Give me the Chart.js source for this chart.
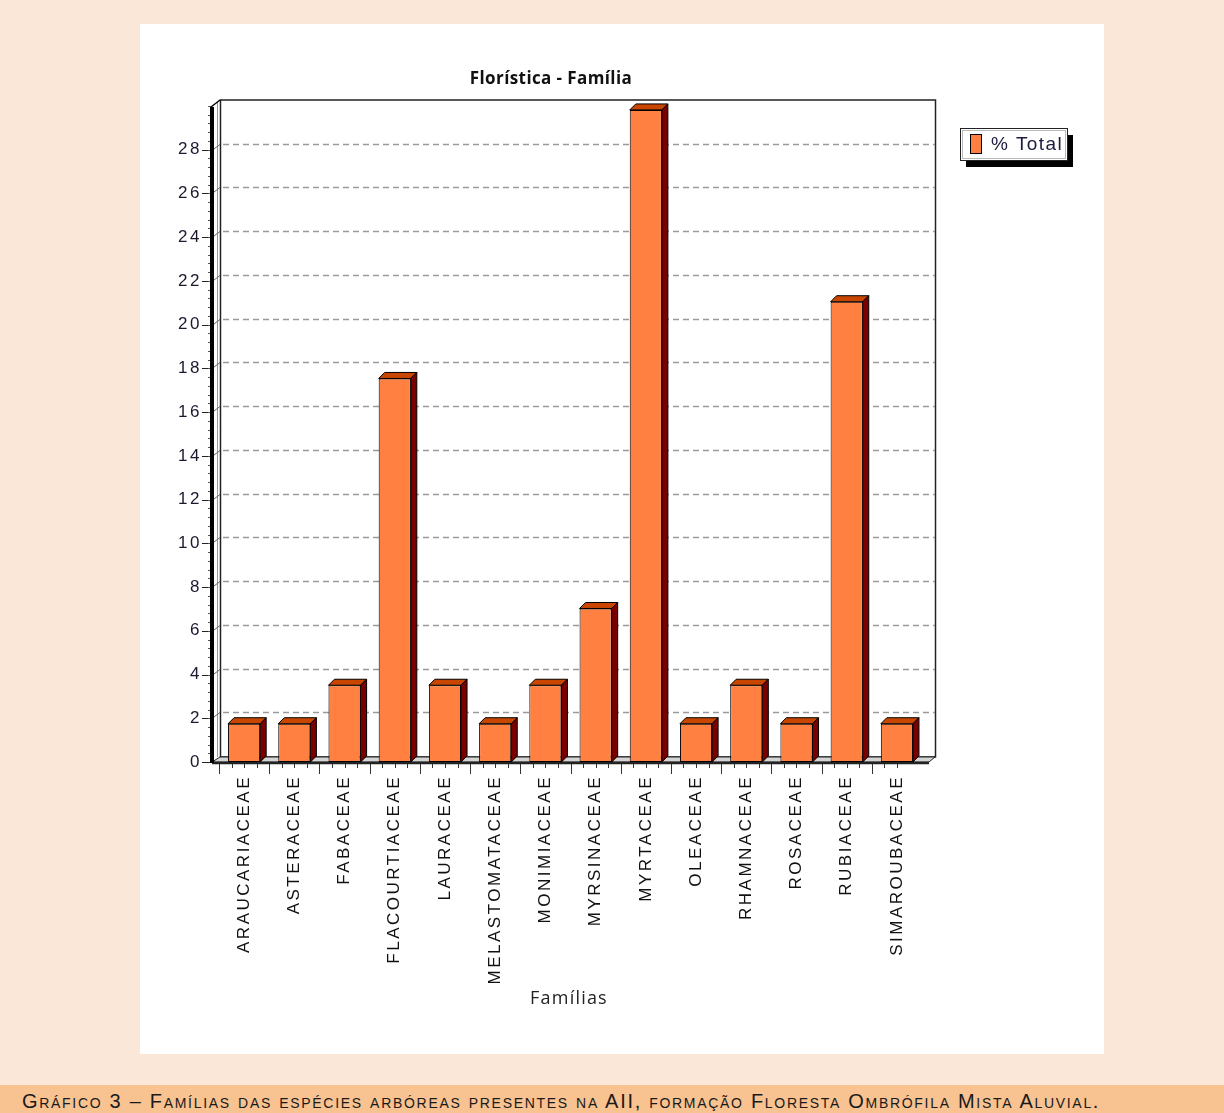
<!DOCTYPE html>
<html lang="pt">
<head>
<meta charset="utf-8">
<title>Florística - Família</title>
<script src="https://cdn.jsdelivr.net/npm/chart.js@4.4.1/dist/chart.umd.min.js"></script>
<style>
  body { margin: 0; background: #fbe7d7; width: 1224px; height: 1113px; position: relative; overflow: hidden; }
  #painel { position: absolute; left: 140px; top: 24px; width: 964px; height: 1030px; background: #fff; }
  #legenda { position: absolute; left: 0; top: 1085px; width: 1224px; height: 28px; background: #f8c291; }
  #legenda p { margin: 0; position: absolute; left: 22px; top: 5px; font-family: "Liberation Sans", sans-serif; font-variant: small-caps; font-size: 20px; letter-spacing: 1.7px; color: #1a1a1a; white-space: nowrap; }
</style>
</head>
<body>
<div id="painel"><canvas id="graficoFamilias" width="964" height="1030"></canvas></div>
<div id="legenda"><p>Gráfico 3 – Famílias das espécies arbóreas presentes na AII, formação Floresta Ombrófila Mista Aluvial.</p></div>
<script>
const familias = ['ARAUCARIACEAE', 'ASTERACEAE', 'FABACEAE', 'FLACOURTIACEAE', 'LAURACEAE', 'MELASTOMATACEAE',
    'MONIMIACEAE', 'MYRSINACEAE', 'MYRTACEAE', 'OLEACEAE', 'RHAMNACEAE', 'ROSACEAE', 'RUBIACEAE', 'SIMAROUBACEAE'];
const percentuais = [1.75, 1.75, 3.51, 17.54, 3.51, 1.75, 3.51, 7.02, 29.82, 1.75, 3.51, 1.75, 21.05, 1.75];
const ticksY = [0, 2, 4, 6, 8, 10, 12, 14, 16, 18, 20, 22, 24, 26, 28];

const corFrente = '#ff8040';
const corTopo = '#c84600';
const corLado = '#7a0000';
const fundoX = 7, fundoY = 6;   // profundidade da caixa 3D

const caixa3d = {
    id: 'caixa3d',
    beforeDraw(chart) {
        chart.ctx.letterSpacing = '2.5px';
    },
    beforeDatasetsDraw(chart) {
        const ctx = chart.ctx;
        ctx.letterSpacing = '0px';
        const a = chart.chartArea;
        const y = chart.scales.y;
        const eixoX = a.left - 7;
        const pLeft = eixoX + fundoX + 1;
        const pRight = a.right + 13;
        const pTop = a.top - fundoY;
        const pBottom = a.bottom - fundoY + 1;

        ctx.save();
        // parede do fundo
        ctx.strokeStyle = '#999';
        ctx.lineWidth = 1;
        ctx.beginPath();
        ctx.moveTo(pLeft - 2.5, pTop + 2); ctx.lineTo(pLeft - 2.5, pBottom);
        ctx.stroke();
        ctx.strokeStyle = '#222';
        ctx.lineWidth = 1.5;
        ctx.strokeRect(pLeft + 0.5, pTop, pRight - pLeft, pBottom - pTop);

        // linhas de grade tracejadas
        ticksY.forEach(v => {
            if (v === 0) return;
            const py = Math.round(y.getPixelForValue(v)) + 0.5;
            ctx.setLineDash([6, 4]);
            ctx.strokeStyle = '#9a9a9a';
            ctx.lineWidth = 1.5;
            ctx.beginPath();
            ctx.moveTo(pLeft + 3, py - fundoY); ctx.lineTo(pRight, py - fundoY);
            ctx.stroke();
            ctx.setLineDash([]);
            ctx.strokeStyle = '#666';
            ctx.lineWidth = 1;
            ctx.beginPath();
            ctx.moveTo(eixoX, py); ctx.lineTo(pLeft, py - fundoY);
            ctx.stroke();
            // marca maior
            ctx.strokeStyle = '#222';
            ctx.beginPath();
            ctx.moveTo(eixoX - 10, py); ctx.lineTo(eixoX, py);
            ctx.stroke();
        });
        ctx.strokeStyle = '#222';
        ctx.lineWidth = 1;
        ctx.beginPath();
        ctx.moveTo(eixoX - 10, a.bottom + 0.5); ctx.lineTo(eixoX, a.bottom + 0.5);
        ctx.stroke();
        // marcas menores
        ctx.strokeStyle = '#555';
        for (let v = 0.4; v < 30; v += 0.4) {
            const py = Math.round(y.getPixelForValue(v)) + 0.5;
            ctx.beginPath();
            ctx.moveTo(eixoX - 4, py); ctx.lineTo(eixoX, py);
            ctx.stroke();
        }

        // piso
        ctx.fillStyle = '#d4d4d4';
        ctx.beginPath();
        ctx.moveTo(eixoX, a.bottom);
        ctx.lineTo(pLeft, pBottom);
        ctx.lineTo(pRight, pBottom);
        ctx.lineTo(pRight - fundoX + 1, a.bottom);
        ctx.closePath();
        ctx.fill();
        ctx.strokeStyle = '#222';
        ctx.lineWidth = 1;
        ctx.stroke();
        ctx.lineWidth = 2.5;
        ctx.beginPath();
        ctx.moveTo(eixoX, a.bottom + 1); ctx.lineTo(pRight - fundoX + 1, a.bottom + 1);
        ctx.stroke();

        // eixo vertical espesso
        ctx.lineWidth = 4;
        ctx.strokeStyle = '#000';
        ctx.beginPath();
        ctx.moveTo(eixoX, a.bottom + 1);
        ctx.lineTo(eixoX, a.top + 1);
        ctx.stroke();
        ctx.lineWidth = 1.5;
        ctx.beginPath();
        ctx.moveTo(eixoX - 1, a.top + 1);
        ctx.lineTo(pLeft, pTop);
        ctx.stroke();

        // marcas do eixo X
        ctx.strokeStyle = '#333';
        ctx.lineWidth = 1;
        const passo = (a.right - a.left) / familias.length;
        for (let i = 0; i <= familias.length * 4; i++) {
            const px = Math.round(a.left + passo * i / 4 - passo / 2 + 0.01) + 0.5;
            if (px < eixoX + 4 || px > pRight - fundoX) continue;
            const longa = i % 4 === 2;
            ctx.beginPath();
            ctx.moveTo(px, a.bottom + 2);
            ctx.lineTo(px, a.bottom + (longa ? 12 : 6));
            ctx.stroke();
        }
        ctx.restore();
    },
    afterDatasetsDraw(chart) {
        const ctx = chart.ctx;
        const meta = chart.getDatasetMeta(0);
        ctx.save();
        ctx.strokeStyle = '#000';
        ctx.lineWidth = 1;
        meta.data.forEach(bar => {
            const {x, y, base, width} = bar.getProps(['x', 'y', 'base', 'width'], true);
            const x0 = x - width / 2, x1 = x + width / 2;
            const d = 6;
            // topo
            ctx.fillStyle = corTopo;
            ctx.beginPath();
            ctx.moveTo(x0, y); ctx.lineTo(x0 + d, y - d); ctx.lineTo(x1 + d, y - d); ctx.lineTo(x1, y);
            ctx.closePath(); ctx.fill(); ctx.stroke();
            // lateral
            ctx.fillStyle = corLado;
            ctx.beginPath();
            ctx.moveTo(x1, y); ctx.lineTo(x1 + d, y - d); ctx.lineTo(x1 + d, base - d); ctx.lineTo(x1, base);
            ctx.closePath(); ctx.fill(); ctx.stroke();
        });
        ctx.restore();
    },
    afterDraw(chart) {
        const ctx = chart.ctx;
        ctx.save();
        // título
        ctx.fillStyle = '#111';
        ctx.letterSpacing = '0.4px';
        ctx.font = 'bold 17px "Open Sans"';
        ctx.textAlign = 'center';
        ctx.textBaseline = 'middle';
        ctx.fillText('Florística - Família', 411, 55);
        // título do eixo X
        ctx.letterSpacing = '1.2px';
        ctx.font = '18px "Open Sans"';
        ctx.fillStyle = '#222';
        ctx.fillText('Famílias', 429, 975);

        // caixa da legenda
        const lx = 820, ly = 104, lw = 107, lh = 32;
        ctx.fillStyle = '#000';
        ctx.fillRect(lx + 6, ly + 7, lw, lh);
        ctx.fillStyle = '#fff';
        ctx.fillRect(lx, ly, lw, lh);
        ctx.strokeStyle = '#222';
        ctx.lineWidth = 1;
        ctx.strokeRect(lx + 0.5, ly + 0.5, lw, lh);
        ctx.strokeStyle = '#bbb';
        ctx.strokeRect(lx + 2.5, ly + 2.5, lw - 4, lh - 4);
        ctx.fillStyle = corFrente;
        ctx.fillRect(lx + 10, ly + 6, 11, 19);
        ctx.strokeStyle = '#000';
        ctx.strokeRect(lx + 10.5, ly + 6.5, 11, 19);
        ctx.fillStyle = '#1b1b40';
        ctx.letterSpacing = '1.4px';
        ctx.font = '19px "Liberation Sans"';
        ctx.textAlign = 'left';
        ctx.fillText(chart.data.datasets[0].label, lx + 31, ly + 17);
        ctx.restore();
    }
};

new Chart(document.getElementById('graficoFamilias'), {
    type: 'bar',
    data: {
        labels: familias,
        datasets: [{
            label: '% Total',
            data: percentuais,
            backgroundColor: corFrente,
            borderColor: '#000',
            borderWidth: 1,
            borderSkipped: false,
            barPercentage: 0.64,
            categoryPercentage: 1
        }]
    },
    options: {
        responsive: false,
        animation: false,
        layout: { padding: { top: 82, right: 182, left: 0, bottom: 0 } },
        plugins: {
            legend: { display: false },
            title: { display: false },
            tooltip: { enabled: false }
        },
        scales: {
            x: {
                grid: { display: false, drawTicks: false },
                border: { display: false },
                ticks: {
                    autoSkip: false,
                    minRotation: 90,
                    maxRotation: 90,
                    padding: 13,
                    color: '#111',
                    font: { family: '"Liberation Sans"', size: 17 }
                },
                afterFit: s => { s.height = 292; }
            },
            y: {
                min: 0,
                max: 30,
                grid: { display: false, drawTicks: false },
                border: { display: false },
                afterBuildTicks: s => { s.ticks = ticksY.map(v => ({ value: v })); },
                ticks: {
                    padding: 17,
                    color: '#1a1a2e',
                    font: { family: '"Liberation Sans"', size: 17 }
                },
                afterFit: s => { s.width = 79; }
            }
        }
    },
    plugins: [caixa3d]
});
</script>
</body>
</html>
